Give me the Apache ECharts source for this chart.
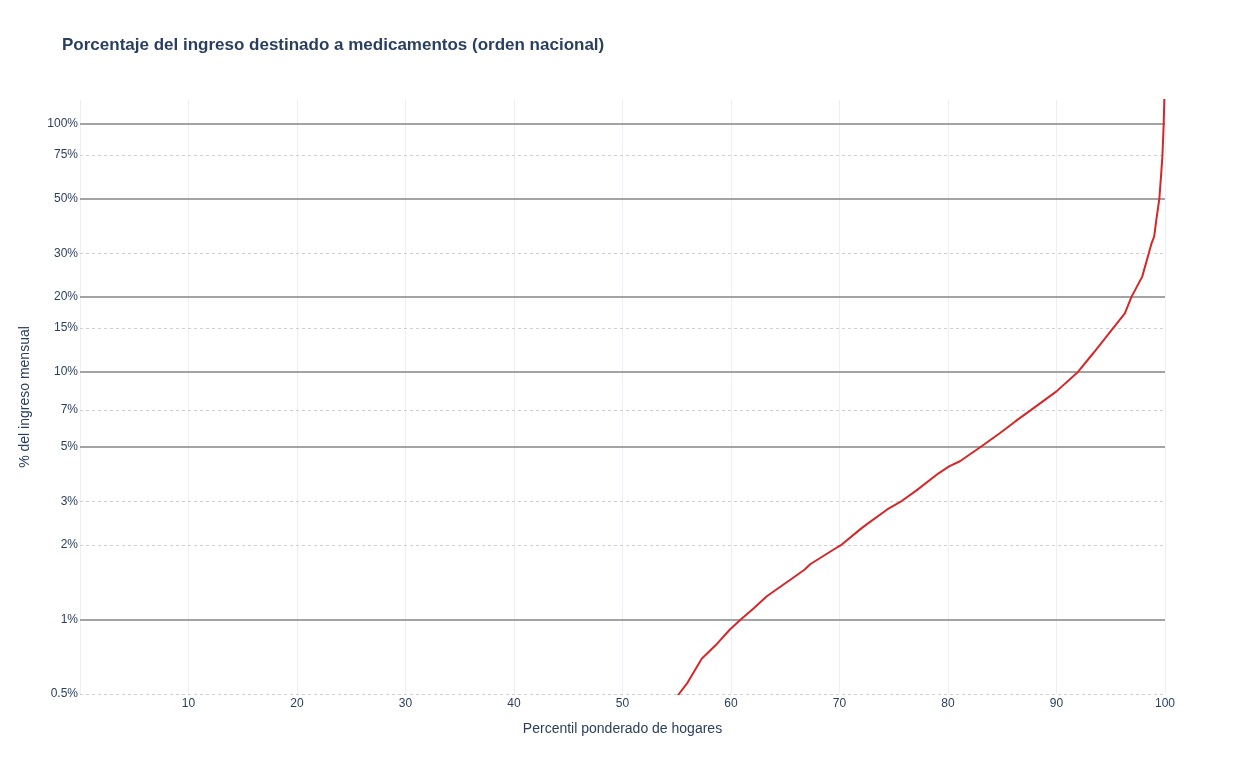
<!DOCTYPE html>
<html>
<head>
    <meta charset="utf-8">
    <script src="https://cdn.jsdelivr.net/npm/echarts@6/dist/echarts.min.js"></script>
    <title>Medicamentos</title>
    <style>
        html, body { margin: 0; padding: 0; background: #fff; }
        #main { width: 1246px; height: 775px; }
    </style>
</head>
<body>
<div id="main"></div>
<script type="text/javascript">
    // percentil ponderado de hogares vs % del ingreso
    var percentiles = [54.8, 55.2, 56.0, 57.3, 58.6, 59.9, 60.9, 62.1, 63.3, 65.5, 66.8, 67.3, 69.5, 70.1,
        71.9, 72.5, 74.4, 75.6, 77.1, 79.1, 80.1, 81.1, 83.1, 84.8, 86.2, 87.6, 90.0, 92.0, 93.4, 95.2,
        96.3, 96.9, 97.9, 98.5, 98.76, 99.0, 99.2, 99.48, 99.63, 99.76, 99.88, 100];
    var shares = [0.47, 0.5, 0.556, 0.694, 0.788, 0.911, 1.0, 1.11, 1.24, 1.45, 1.59, 1.67, 1.92, 1.99,
        2.31, 2.42, 2.78, 2.98, 3.32, 3.88, 4.15, 4.35, 5.0, 5.66, 6.3, 6.98, 8.33, 10.0, 11.9, 14.96,
        17.2, 20.0, 24.2, 30.0, 33.0, 35.1, 41.0, 50.0, 61.3, 73.8, 100, 160];

    var yTicks = [0.5, 1, 2, 3, 5, 7, 10, 15, 20, 30, 50, 75, 100];
    var solidLines = [1, 5, 10, 20, 50, 100];
    var dashedLines = [0.5, 2, 3, 7, 15, 30, 75];

    var points = [];
    for (var i = 0; i < percentiles.length; i++) {
        points.push([percentiles[i], shares[i]]);
    }

    var refLines = [];
    solidLines.forEach(function (v) {
        refLines.push({ yAxis: v, lineStyle: { color: '#a3a3a3', width: 2, type: 'solid' } });
    });
    dashedLines.forEach(function (v) {
        refLines.push({ yAxis: v, lineStyle: { color: '#d0d0d0', width: 1, type: [3, 3] } });
    });

    var myChart = echarts.init(document.getElementById('main'));
    var option = {
        backgroundColor: '#fff',
        animation: false,
        title: {
            text: 'Porcentaje del ingreso destinado a medicamentos (orden nacional)',
            left: 57,
            top: 32,
            textStyle: {
                color: '#2a3f5f',
                fontSize: 17,
                fontWeight: 'bold',
                fontFamily: 'Arial, Liberation Sans, sans-serif'
            }
        },
        grid: {
            left: 80,
            right: 81,
            top: 100,
            bottom: 81
        },
        xAxis: {
            type: 'value',
            min: 0,
            max: 100,
            interval: 10,
            name: 'Percentil ponderado de hogares',
            nameLocation: 'middle',
            nameGap: 28,
            nameTextStyle: { color: '#2a3f5f', fontSize: 14, fontFamily: 'Arial, Liberation Sans, sans-serif' },
            axisLine: { show: false },
            axisTick: { show: false },
            axisLabel: {
                color: '#2a3f5f',
                fontSize: 12,
                margin: 4,
                fontFamily: 'Arial, Liberation Sans, sans-serif',
                formatter: function (v) { return v === 0 ? '' : v; }
            },
            splitLine: { show: true, lineStyle: { color: '#ebf0f8', width: 1 } }
        },
        yAxis: {
            type: 'log',
            logBase: 10,
            min: 0.5,
            max: 125,
            name: '% del ingreso mensual',
            nameLocation: 'middle',
            nameGap: 48,
            nameTextStyle: { color: '#2a3f5f', fontSize: 14, fontFamily: 'Arial, Liberation Sans, sans-serif' },
            axisLine: { show: false },
            axisTick: { show: false },
            splitLine: { show: false },
            axisLabel: {
                color: '#2a3f5f',
                fontSize: 12,
                margin: 2,
                padding: [4, 0, 0, 0],
                fontFamily: 'Arial, Liberation Sans, sans-serif',
                customValues: yTicks,
                formatter: function (v) { return v + '%'; }
            }
        },
        series: [{
            type: 'line',
            data: points,
            showSymbol: false,
            smooth: false,
            clip: true,
            lineStyle: { color: '#d62728', width: 2 },
            z: 5,
            markLine: {
                silent: true,
                symbol: 'none',
                label: { show: false },
                animation: false,
                data: refLines
            }
        }]
    };
    myChart.setOption(option);
</script>
</body>
</html>
